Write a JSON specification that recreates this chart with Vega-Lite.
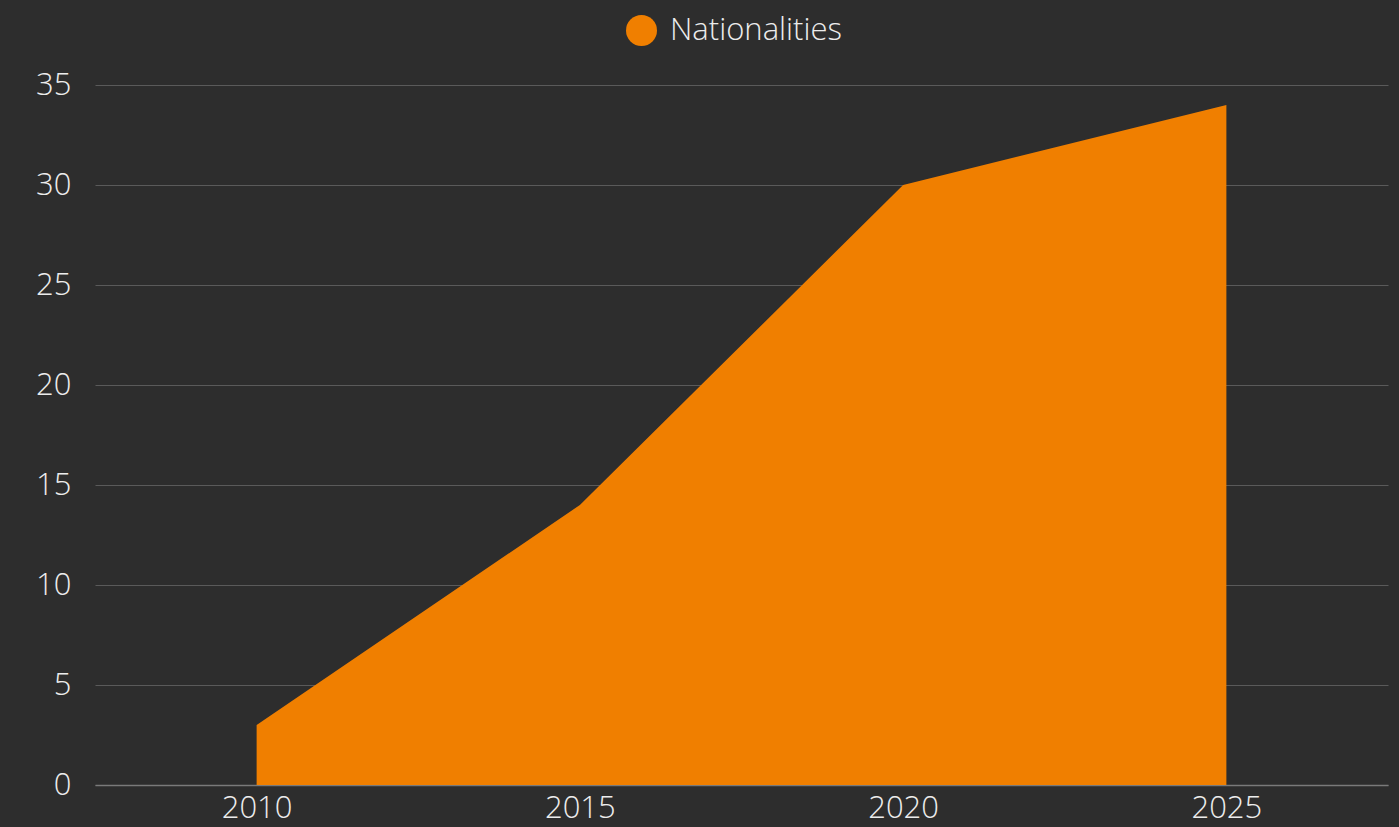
{
  "$schema": "https://vega.github.io/schema/vega-lite/v6.json",
  "autosize": {"type": "none"},
  "padding": {"left": 95, "top": 85, "right": 11, "bottom": 42},
  "width": 1293,
  "height": 700,
  "background": "#2d2d2d",
  "config": {
    "view": {"stroke": null},
    "font": "Open Sans",
    "axis": {"labelFont": "Open Sans", "labelFontWeight": 300, "labelFontSize": 31, "labelColor": "#ececec"}
  },
  "data": {
    "values": [
      {"year": "2010", "value": 3, "series": "Nationalities"},
      {"year": "2015", "value": 14, "series": "Nationalities"},
      {"year": "2020", "value": 30, "series": "Nationalities"},
      {"year": "2025", "value": 34, "series": "Nationalities"}
    ]
  },
  "mark": {"type": "area", "opacity": 1},
  "encoding": {
    "x": {
      "field": "year", "type": "ordinal",
      "scale": {"type": "point", "padding": 0.5},
      "axis": {"title": null, "labelAngle": 0, "ticks": false, "grid": false, "domain": true, "domainColor": "#7a7a7a", "domainWidth": 1.5, "labelPadding": 8}
    },
    "y": {
      "field": "value", "type": "quantitative",
      "scale": {"domain": [0, 35], "nice": false},
      "axis": {"title": null, "values": [0, 5, 10, 15, 20, 25, 30, 35], "ticks": false, "domain": false, "grid": true, "gridColor": "#5a5a5a", "gridWidth": 1, "labelPadding": 24}
    },
    "color": {
      "field": "series", "type": "nominal",
      "scale": {"range": ["#f07f00"]},
      "legend": {
        "title": null, "orient": "none", "legendX": 531, "legendY": -70, "direction": "horizontal",
        "symbolType": "circle", "symbolSize": 961, "symbolOpacity": 1, "symbolStrokeWidth": 0,
        "labelFont": "Open Sans", "labelFontWeight": 300, "labelFontSize": 31, "labelColor": "#ececec",
        "labelOffset": 13, "labelLimit": 400
      }
    }
  }
}
